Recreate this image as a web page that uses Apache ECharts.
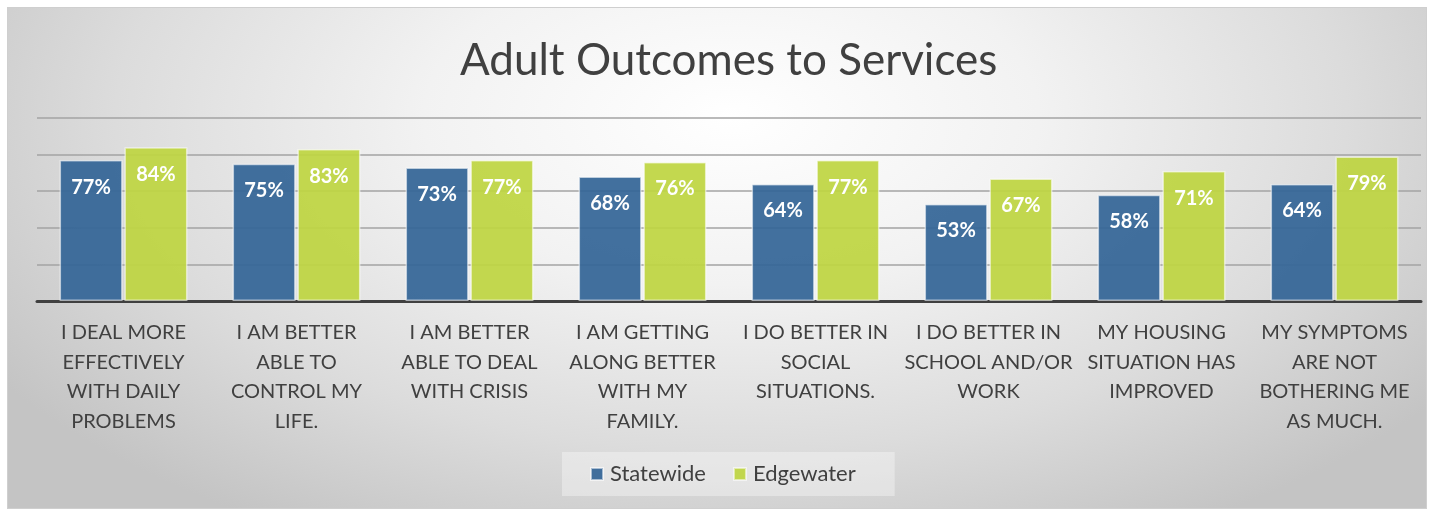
<!DOCTYPE html>
<html>
<head>
<meta charset="utf-8">
<script src="https://cdn.jsdelivr.net/npm/echarts@6/dist/echarts.min.js"></script>
<style>
html,body{margin:0;padding:0;background:#ffffff;}
#frame{position:absolute;left:7px;top:7px;width:1418px;height:500px;border:1px solid #cfcfcf;
background:radial-gradient(ellipse 62% 95% at 51% 22%, #ffffff 0%, #f2f2f2 35%, #dcdcdc 70%, #c4c4c4 100%);}
#chart{position:absolute;left:0;top:0;width:1430px;height:510px;}
</style>
</head>
<body>
<div id="frame"></div>
<div id="chart"></div>
<script>
const categories = [
  "I DEAL MORE\nEFFECTIVELY\nWITH DAILY\nPROBLEMS",
  "I AM BETTER\nABLE TO\nCONTROL MY\nLIFE.",
  "I AM BETTER\nABLE TO DEAL\nWITH CRISIS",
  "I AM GETTING\nALONG BETTER\nWITH MY\nFAMILY.",
  "I DO BETTER IN\nSOCIAL\nSITUATIONS.",
  "I DO BETTER IN\nSCHOOL AND/OR\nWORK",
  "MY HOUSING\nSITUATION HAS\nIMPROVED",
  "MY SYMPTOMS\nARE NOT\nBOTHERING ME\nAS MUCH."
];
const statewide = [77, 75, 73, 68, 64, 53, 58, 64];
const edgewater = [84, 83, 77, 76, 77, 67, 71, 79];
const seriesNames = ["Statewide", "Edgewater"];
const titleText = "Adult Outcomes to Services";

const FONT = "Lato, 'Open Sans', sans-serif";
const chart = echarts.init(document.getElementById('chart'), null, {renderer: 'canvas'});
const labelCfg = {
  show: true, position: 'insideTop', distance: 17,
  color: '#ffffff', fontWeight: 'bold', fontSize: 20, fontFamily: FONT,
  formatter: p => p.value + '%'
};
chart.setOption({
  backgroundColor: 'transparent',
  animation: false,
  title: {
    text: titleText, left: 455, top: 34,
    textStyle: {fontFamily: FONT, fontWeight: 'normal', fontSize: 44, color: '#404040'}
  },
  legend: {
    data: seriesNames, bottom: 14, left: 562,
    itemWidth: 12, itemHeight: 12, itemGap: 27,
    padding: [11, 39, 11, 28],
    backgroundColor: 'rgba(255,255,255,0.35)',
    textStyle: {fontFamily: FONT, fontSize: 22, color: '#404040', padding: [0, 0, 0, 2]},
    icon: 'rect'
  },
  grid: {left: 37, right: 9, top: 118, bottom: 209, containLabel: false},
  xAxis: {
    type: 'category', data: categories,
    axisLine: {show: true, lineStyle: {color: '#404040', width: 3}},
    axisTick: {show: false},
    axisLabel: {interval: 0, margin: 17, fontFamily: FONT, fontSize: 20, color: '#404040', lineHeight: 29.5}
  },
  yAxis: {
    type: 'value', min: 0, max: 100, interval: 20,
    axisLabel: {show: false}, axisLine: {show: false}, axisTick: {show: false},
    splitLine: {lineStyle: {color: '#a3a3a3', width: 1.5}}
  },
  series: [
    {name: seriesNames[0], type: 'bar', data: statewide, barWidth: 63, barGap: '3%',
     itemStyle: {color: 'rgba(50,100,150,0.92)', borderColor: 'rgba(255,255,255,0.55)', borderWidth: 1.5},
     label: labelCfg},
    {name: seriesNames[1], type: 'bar', data: edgewater, barWidth: 63,
     itemStyle: {color: 'rgba(190,213,64,0.92)', borderColor: 'rgba(255,255,255,0.55)', borderWidth: 1.5},
     label: labelCfg}
  ]
});
</script>
</body>
</html>
